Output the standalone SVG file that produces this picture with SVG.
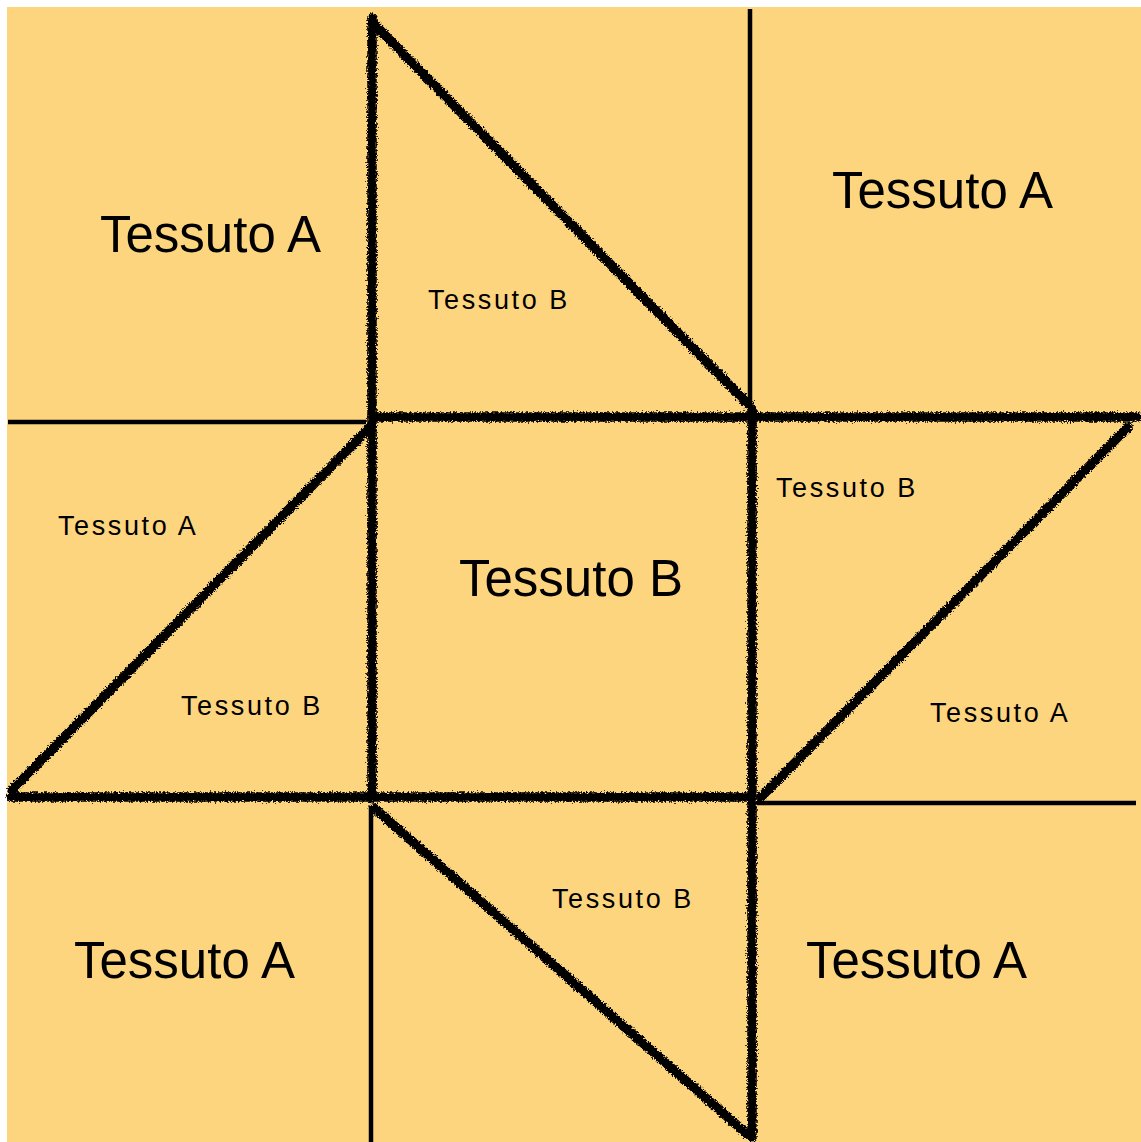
<svg xmlns="http://www.w3.org/2000/svg" width="1141" height="1142" viewBox="0 0 1141 1142">
  <defs>
    <filter id="rough" x="-5%" y="-5%" width="110%" height="110%">
      <feTurbulence type="fractalNoise" baseFrequency="0.6" numOctaves="2" seed="3" result="noise"/>
      <feDisplacementMap in="SourceGraphic" in2="noise" scale="6" xChannelSelector="R" yChannelSelector="G"/>
    </filter>
  </defs>
  <style>
    .thin { stroke: #000; stroke-width: 4.5; fill: none; }
    .thick { stroke: #000; stroke-width: 9.5; fill: none; stroke-linecap: round; stroke-linejoin: round; }
    .big { font-family: "Liberation Sans", Arial, sans-serif; font-size: 51px; fill: #000; }
    .small { font-family: "Liberation Sans", Arial, sans-serif; font-size: 27px; letter-spacing: 2.6px; fill: #000; }
  </style>
  <rect x="7" y="7" width="1134" height="1135" fill="#FDD57F"/>

  <g id="thin-lines">
    <line class="thin" x1="750" y1="9" x2="750" y2="406"/>
    <line class="thin" x1="8" y1="422" x2="366" y2="422"/>
    <line class="thin" x1="757" y1="803" x2="1136" y2="803"/>
    <line class="thin" x1="371" y1="806" x2="371" y2="1142"/>
  </g>

  <g id="thick-lines" filter="url(#rough)">
    <path class="thick" d="M372,18 L372,798"/>
    <path class="thick" d="M374,24 L749,405"/>
    <path class="thick" d="M372,417 L1137,417"/>
    <path class="thick" d="M752,410 L752,1137"/>
    <path class="thick" d="M1128,427 L761,797"/>
    <path class="thick" d="M11,797 L752,797"/>
    <path class="thick" d="M12,790 L371,426"/>
    <path class="thick" d="M374,808 L747,1134"/>
  </g>

  <g id="labels">
    <text class="big" x="100" y="252">Tessuto A</text>
    <text class="big" x="832" y="208">Tessuto A</text>
    <text class="big" x="459" y="596">Tessuto B</text>
    <text class="big" x="74" y="978">Tessuto A</text>
    <text class="big" x="806" y="978">Tessuto A</text>
    <text class="small" x="428" y="309">Tessuto B</text>
    <text class="small" x="776" y="497">Tessuto B</text>
    <text class="small" x="58" y="535">Tessuto A</text>
    <text class="small" x="181" y="715">Tessuto B</text>
    <text class="small" x="930" y="722">Tessuto A</text>
    <text class="small" x="552" y="908">Tessuto B</text>
  </g>
</svg>
